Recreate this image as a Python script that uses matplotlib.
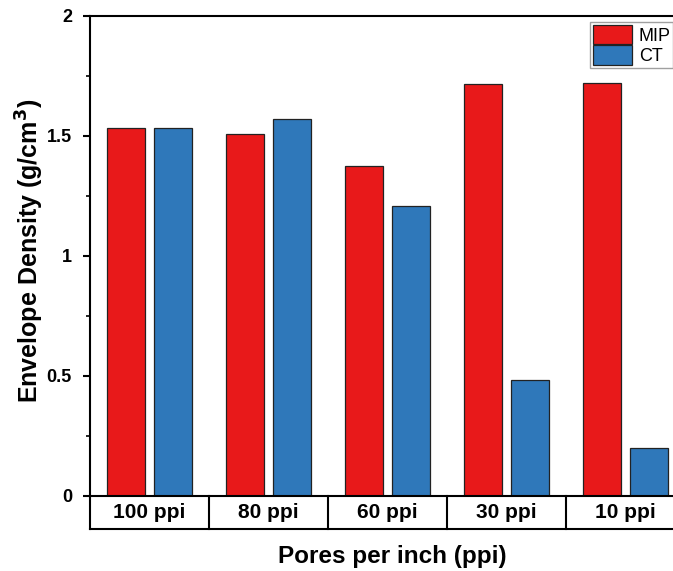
import numpy as np
import matplotlib.pyplot as plt
from matplotlib.ticker import MultipleLocator, FuncFormatter

plt.rcParams['font.family'] = ['Liberation Sans', 'DejaVu Sans']
plt.rcParams['font.weight'] = 'bold'

# Data
categories = ["100 ppi", "80 ppi", "60 ppi", "30 ppi", "10 ppi"]
mip = [1.533, 1.508, 1.375, 1.717, 1.721]
ct = [1.533, 1.571, 1.208, 0.483, 0.200]

red = '#E8191A'
blue = '#2F78BA'

fig = plt.figure(figsize=(6.73, 5.71), dpi=100)
# right edge of axes lies past the figure (reference is cropped)
ax = fig.add_axes([90/673, 75/571, 595/673, 480/571])

x = np.arange(len(categories))
w = 0.32
ax.bar(x - 0.2, mip, w, color=red, edgecolor='#222222', linewidth=0.9, label='MIP')
ax.bar(x + 0.2, ct, w, color=blue, edgecolor='#222222', linewidth=0.9, label='CT')

ax.set_xlim(-0.5, len(categories) - 0.5)
ax.set_ylim(0, 2)
ax.yaxis.set_major_locator(MultipleLocator(0.5))
ax.yaxis.set_minor_locator(MultipleLocator(0.25))
ax.yaxis.set_major_formatter(FuncFormatter(lambda v, p: f"{v:g}"))
ax.tick_params(axis='y', which='major', direction='out', length=5, width=1.5, labelsize=13, pad=8)
ax.tick_params(axis='y', which='minor', direction='out', length=3, width=1.2)
ax.set_xticks([])
for s in ['left', 'top', 'bottom', 'right']:
    ax.spines[s].set_linewidth(1.5)
for lab in ax.get_yticklabels():
    lab.set_fontweight('bold')

# category box below the axis
trans = ax.get_xaxis_transform()
bh = 33 / 480
ax.plot([-0.5, len(categories) - 0.5], [-bh, -bh], color='black', lw=1.5,
        transform=trans, clip_on=False)
for b in np.arange(len(categories) + 1) - 0.5:
    ax.plot([b, b], [0, -bh], color='black', lw=1.5, transform=trans, clip_on=False)
for xi, c in zip(x, categories):
    ax.text(xi, -bh / 2, c, transform=trans, ha='center', va='center',
            fontsize=15, fontweight='bold')

ax.set_ylabel('Envelope Density (g/cm$^\\mathbf{3}$)', fontsize=18, fontweight='bold')
ax.yaxis.set_label_coords(-44/595, 0.51)
fig.text(392/673, 1 - 556/571, 'Pores per inch (ppi)', ha='center', va='center',
         fontsize=17.5, fontweight='bold')

leg = ax.legend(loc='upper left', bbox_to_anchor=(500/595, 474/480), fontsize=13, frameon=True,
                fancybox=False, edgecolor='#888888', borderpad=0.15, handlelength=2.2,
                handleheight=1.3, handletextpad=0.35, labelspacing=0.05, borderaxespad=0)
for t in leg.get_texts():
    t.set_fontweight('normal')

fig.savefig('out.png', dpi=100)
